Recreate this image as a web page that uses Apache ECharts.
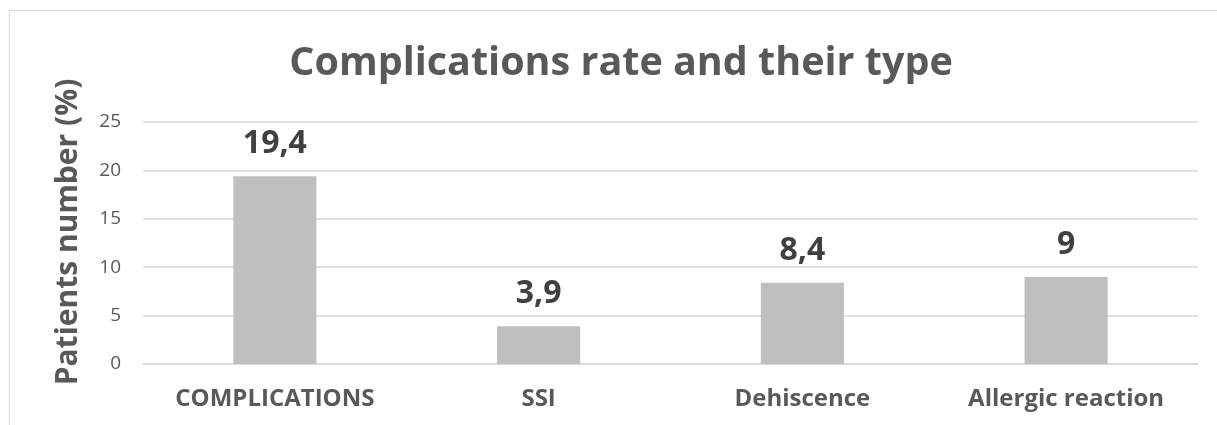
<!DOCTYPE html>
<html><head><meta charset="utf-8">
<script src="https://cdn.jsdelivr.net/npm/echarts@6/dist/echarts.min.js"></script>
<style>html,body{margin:0;padding:0;background:#fff}#c{width:1217px;height:425px}
#frame{position:absolute;left:9px;top:10px;width:1300px;height:500px;border:1.5px solid #d9d9d9;box-sizing:border-box;pointer-events:none}</style>
</head><body><div id="c"></div><div id="frame"></div>
<script>
const categories = ['COMPLICATIONS', 'SSI', 'Dehiscence', 'Allergic reaction'];
const values = [19.4, 3.9, 8.4, 9];
const chart = echarts.init(document.getElementById('c'));
const font = '"Open Sans", "Noto Sans", sans-serif';
chart.setOption({
  animation: false,
  backgroundColor: '#fff',
  title: {
    text: 'Complications rate and their type',
    left: 616, top: 39, textAlign: 'center',
    textStyle: { fontFamily: font, fontSize: 39.5, fontWeight: 'bold', color: '#595959' }
  },
  grid: { left: 143, right: 19, top: 122, bottom: 61 },
  xAxis: {
    type: 'category', data: categories,
    axisLine: { lineStyle: { color: '#d9d9d9', width: 1.5 } },
    axisTick: { show: false },
    axisLabel: { fontFamily: font, fontSize: 24, fontWeight: 'bold', color: '#595959', margin: 23 }
  },
  yAxis: {
    type: 'value', min: 0, max: 25, interval: 5,
    name: 'Patients number (%)', nameLocation: 'middle', nameGap: 60, nameRotate: 90,
    nameTextStyle: { fontFamily: font, fontSize: 30, fontWeight: 'bold', color: '#595959', padding: [0,0,0,22] },
    axisLine: { show: false }, axisTick: { show: false },
    axisLabel: { fontFamily: font, fontSize: 19, color: '#595959', margin: 22 },
    splitLine: { lineStyle: { color: '#d9d9d9', width: 1.5 } }
  },
  series: [{
    type: 'bar', data: values, barWidth: '31.5%',
    itemStyle: { color: '#bfbfbf' },
    label: {
      show: true, position: 'top', distance: 16,
      fontFamily: font, fontSize: 32, fontWeight: 'bold', color: '#404040',
      formatter: p => String(p.value).replace('.', ',')
    }
  }]
});
</script></body></html>
